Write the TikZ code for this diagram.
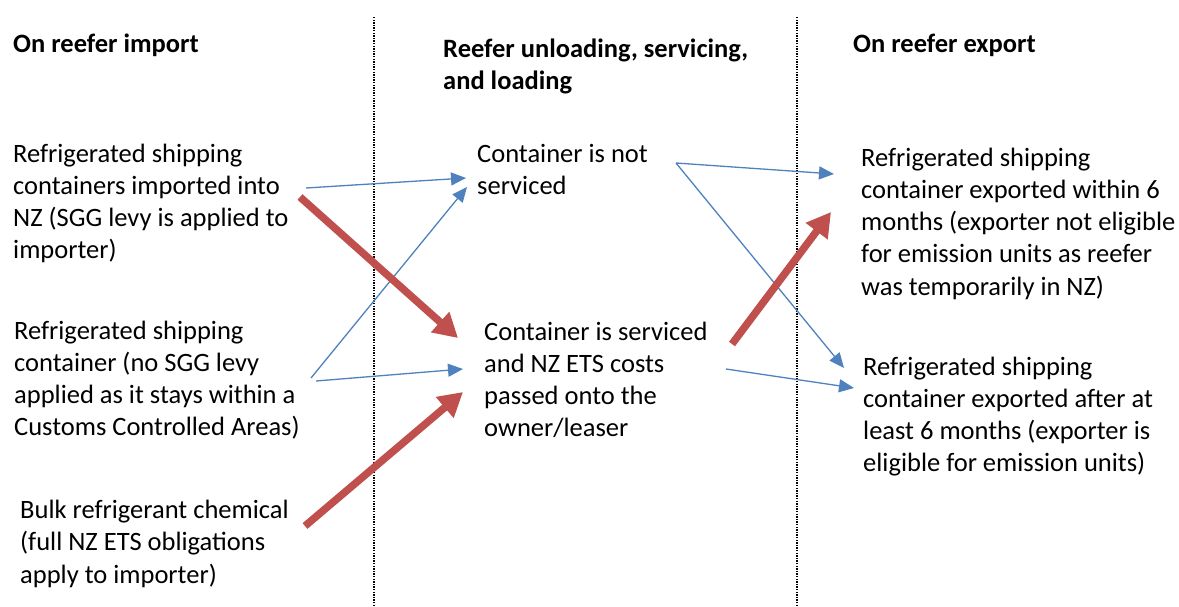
\documentclass[tikz,border=0pt]{standalone}
\usepackage{fontspec}
\setmainfont{Carlito}
\usetikzlibrary{arrows.meta}
\definecolor{ablue}{HTML}{4F81BD}
\definecolor{ared}{HTML}{C0504D}
\begin{document}
\begin{tikzpicture}[x=1pt,y=-1pt,
  txt/.style={anchor=base west,align=left,inner sep=0pt,font=\fontsize{26.5}{32.3}\selectfont},
  hdr/.style={txt,font=\fontsize{26.5}{32.3}\selectfont\bfseries},
  divider/.style={line width=1.4pt,dash pattern=on 1.3pt off 1.3pt},
  thin/.style={draw=ablue,line width=1.3pt,-{Triangle[length=15pt,width=13pt]}},
  thick/.style={draw=ared,line width=7.5pt,-{Triangle[length=24pt,width=26pt]}}]
\useasboundingbox (0,0) rectangle (1179,606);
% dividers
\coordinate (d1t) at (374,17); \coordinate (d1b) at (374,606);
\coordinate (d2t) at (797,17); \coordinate (d2b) at (797,606);
\draw[divider] (d1t) -- (d1b);
\draw[divider] (d2t) -- (d2b);
% headers (anchor = baseline of last line)
\node[hdr] (h1) at (13,52) {On reefer import};
\node[hdr] (h2) at (443,89.3) {Reefer unloading, servicing,\\and loading};
\node[hdr] (h3) at (853,52) {On reefer export};
% texts
\node[txt] (A) at (13,258.9) {Refrigerated shipping\\containers imported into\\NZ (SGG levy is applied to\\importer)};
\node[txt] (B) at (14,435.9) {Refrigerated shipping\\container (no SGG levy\\applied as it stays within a\\Customs Controlled Areas)};
\node[txt] (C) at (20,583.1) {Bulk refrigerant chemical\\(full NZ ETS obligations\\apply to importer)};
\node[txt] (D) at (477,194.3) {Container is not\\serviced};
\node[txt] (E) at (484,436.9) {Container is serviced\\and NZ ETS costs\\passed onto the\\owner/leaser};
\node[txt] (F) at (861,295.2) {Refrigerated shipping\\container exported within 6\\months (exporter not eligible\\for emission units as reefer\\was temporarily in NZ)};
\node[txt] (G) at (863,471.9) {Refrigerated shipping\\container exported after at\\least 6 months (exporter is\\eligible for emission units)};
% arrow end points
\coordinate (a1s) at (306,188); \coordinate (a1e) at (466,178);
\coordinate (a2s) at (311,378); \coordinate (a2e) at (467,187);
\coordinate (a3s) at (316,381); \coordinate (a3e) at (463,369);
\coordinate (a4s) at (676,163); \coordinate (a4e) at (834,174);
\coordinate (a5e) at (844,368);
\coordinate (a6s) at (726,369); \coordinate (a6e) at (854,388);
\coordinate (r1s) at (300,197); \coordinate (r1e) at (458,338);
\coordinate (r2s) at (305,526); \coordinate (r2e) at (463,392);
\coordinate (r3s) at (732,344); \coordinate (r3e) at (831,212);
% blue arrows
\draw[thin] (a1s) -- (a1e);
\draw[thin] (a2s) -- (a2e);
\draw[thin] (a3s) -- (a3e);
\draw[thin] (a4s) -- (a4e);
\draw[thin] (a4s) -- (a5e);
\draw[thin] (a6s) -- (a6e);
% red arrows
\draw[thick] (r1s) -- (r1e);
\draw[thick] (r2s) -- (r2e);
\draw[thick] (r3s) -- (r3e);
\end{tikzpicture}
\end{document}
